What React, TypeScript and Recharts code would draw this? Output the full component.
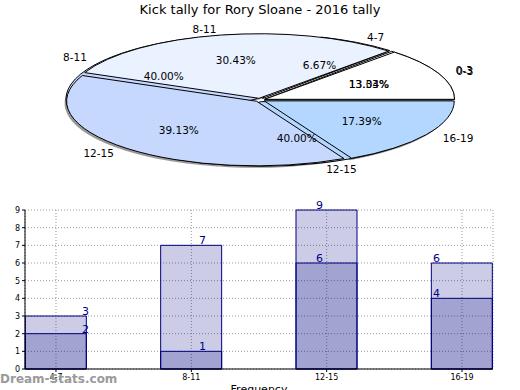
import {
  Bar,
  BarChart,
  CartesianGrid,
  LabelList,
  Pie,
  PieChart,
  ReferenceArea,
  XAxis,
  YAxis,
} from "recharts";

// pie data (two overlaid pies)
const outerRanges = ["0-3", "8-11", "12-15", "16-19"];
const outerTally = [3, 7, 9, 4];
const outerColors = ["#ffffff", "#eaf1ff", "#c6d8fd", "#b4d7ff"];

const innerRanges = ["0-3", "4-7", "8-11", "12-15"];
const innerTally = [2, 1, 6, 6];
const innerColors = ["#ffffff", "#eaf1ff", "#c6d8fd", "#b4d7ff"];

// bar data
const barRanges = ["4-7", "8-11", "12-15", "16-19"];
const barBack = [3, 7, 9, 6];
const barFront = [2, 1, 6, 4];
const yTicks = [0, 1, 2, 3, 4, 5, 6, 7, 8, 9];

const outerData = outerRanges.map((r, i) => ({ name: r, value: outerTally[i] }));
const innerData = innerRanges.map((r, i) => ({ name: r, value: innerTally[i] }));
const barData = barRanges.map((r, i) => ({ pos: i, name: r, back: barBack[i], front: barFront[i] }));

const K = 0.34; // vertical squash of the pie
const EXPLODE = 5;
const FONT = "'DejaVu Sans', sans-serif";

const rad = (d: number) => (d * Math.PI) / 180;
const pt = (cx: number, cy: number, r: number, deg: number) => [
  cx + r * Math.cos(rad(deg)),
  cy - r * K * Math.sin(rad(deg)),
];

// draws an elliptical wedge from the angles the Pie computed
const ovalWedge = (colors: string[], dx = 0, dy = 0, shadow = false) => (p: any) => {
  const mid = p.midAngle;
  const cx = p.cx + EXPLODE * Math.cos(rad(mid)) + dx;
  const cy = p.cy - EXPLODE * K * Math.sin(rad(mid)) + dy;
  const R = p.outerRadius;
  const [x1, y1] = pt(cx, cy, R, p.startAngle);
  const [x2, y2] = pt(cx, cy, R, p.endAngle);
  const large = Math.abs(p.endAngle - p.startAngle) > 180 ? 1 : 0;
  const d = `M${cx},${cy} L${x1},${y1} A${R},${R * K} 0 ${large} 0 ${x2},${y2} Z`;
  return (
    <path
      key={`w-${p.index}`}
      d={d}
      fill={shadow ? "#555" : colors[p.index]}
      fillOpacity={shadow ? 0.6 : 1}
      stroke={shadow ? "none" : "#000"}
      strokeWidth={1}
    />
  );
};

const wedgeText = (p: any) => {
  const mid = p.midAngle;
  const cx = p.cx + EXPLODE * Math.cos(rad(mid));
  const cy = p.cy - EXPLODE * K * Math.sin(rad(mid));
  const R = p.outerRadius;
  const [lx, ly] = pt(cx, cy, R * 1.1, mid);
  const [px, py] = pt(cx, cy, R * 0.6, mid);
  return (
    <g key={`t-${p.index}`}>
      <text
        x={lx}
        y={ly}
        fontSize={10.5}
        fontFamily={FONT}
        fill="#000"
        textAnchor={Math.cos(rad(mid)) >= 0 ? "start" : "end"}
        dominantBaseline="central"
      >
        {p.name}
      </text>
      <text
        x={px}
        y={py}
        fontSize={10.5}
        fontFamily={FONT}
        fill="#000"
        textAnchor="middle"
        dominantBaseline="central"
      >
        {(p.percent * 100).toFixed(2)}%
      </text>
    </g>
  );
};

const barValue = (p: any) => (
  <text
    x={p.x + p.width / 2}
    y={p.y - 1}
    fontSize={11}
    fontFamily={FONT}
    fill="#00008b"
    textAnchor="start"
  >
    {p.value}
  </text>
);

const pieCommon = {
  cx: 260,
  cy: 100,
  outerRadius: 190,
  dataKey: "value",
  nameKey: "name",
  fill: "none",
  stroke: "none",
  labelLine: false,
  isAnimationActive: false,
};

export default function App() {
  return (
    <div
      style={{
        position: "absolute",
        left: 0,
        top: 0,
        width: 520,
        height: 390,
        background: "#fff",
        fontFamily: FONT,
        overflow: "hidden",
      }}
    >
      <div
        style={{
          position: "absolute",
          top: 2,
          left: 0,
          width: 520,
          textAlign: "center",
          fontSize: 13,
          lineHeight: "15px",
        }}
      >
        Kick tally for Rory Sloane - 2016 tally
      </div>

      <div style={{ position: "absolute", top: 0, left: 0 }}>
        <PieChart width={520} height={195} margin={{ top: 0, right: 0, bottom: 0, left: 0 }}>
          <Pie {...pieCommon} data={outerData} label={ovalWedge(outerColors, -2, 2, true)} />
          <Pie {...pieCommon} data={innerData} label={ovalWedge(innerColors)} />
          <Pie {...pieCommon} data={outerData} label={ovalWedge(outerColors)} />
          <Pie {...pieCommon} data={innerData} label={wedgeText} />
          <Pie {...pieCommon} data={outerData} label={wedgeText} />
        </PieChart>
      </div>

      <div style={{ position: "absolute", top: 200, left: 0 }}>
        <BarChart
          width={520}
          height={190}
          data={barData}
          margin={{ top: 10, right: 27, bottom: 0, left: 0 }}
        >
          <CartesianGrid stroke="#999" strokeDasharray="1 2" />
          <XAxis
            xAxisId={0}
            type="number"
            dataKey="pos"
            domain={[-0.229, 3.229]}
            ticks={[0, 1, 2, 3]}
            tickFormatter={(v: number) => barRanges[v]}
            height={21}
            tickSize={3}
            tick={{ fontSize: 8, fill: "#000" }}
            stroke="#000"
            label={{ value: "Frequency", position: "insideBottom", offset: -3, fontSize: 11, fill: "#000" }}
          />
          <XAxis xAxisId="front" type="number" dataKey="pos" domain={[-0.229, 3.229]} hide />
          <XAxis xAxisId="lab1" type="number" dataKey="pos" domain={[-0.487, 3.513]} hide />
          <XAxis xAxisId="lab2" type="number" dataKey="pos" domain={[-0.487, 3.513]} hide />
          <YAxis
            domain={[0, 9]}
            ticks={yTicks}
            width={25}
            tickSize={3}
            tick={{ fontSize: 8, fill: "#000" }}
            stroke="#000"
            interval={0}
          />
          <Bar
            xAxisId={0}
            dataKey="back"
            barSize={61}
            fill="#000080"
            fillOpacity={0.2}
            stroke="#000080"
            isAnimationActive={false}
          />
          <Bar
            xAxisId="front"
            dataKey="front"
            barSize={61}
            fill="#000080"
            fillOpacity={0.2}
            stroke="#000080"
            isAnimationActive={false}
          />
          <Bar xAxisId="lab1" dataKey="back" barSize={1} fill="none" isAnimationActive={false}>
            <LabelList dataKey="back" content={barValue} />
          </Bar>
          <Bar xAxisId="lab2" dataKey="front" barSize={1} fill="none" isAnimationActive={false}>
            <LabelList dataKey="front" content={barValue} />
          </Bar>
          <ReferenceArea xAxisId={0} fill="none" stroke="#000" ifOverflow="visible" />
        </BarChart>
      </div>

      <div
        style={{
          position: "absolute",
          left: 0,
          top: 372,
          fontSize: 12,
          lineHeight: "14px",
          color: "#9a9a9a",
          fontWeight: "bold",
        }}
      >
        Dream-Stats.com
      </div>
    </div>
  );
}
